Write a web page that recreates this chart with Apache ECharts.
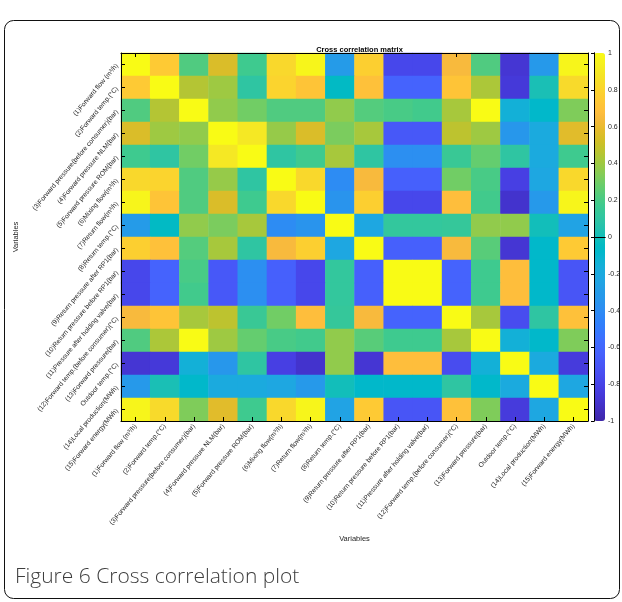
<!DOCTYPE html>
<html>
<head>
<meta charset="utf-8">
<script src="https://cdn.jsdelivr.net/npm/echarts@6/dist/echarts.min.js"></script>
<style>
  html, body { margin: 0; padding: 0; background: #ffffff; }
  #chart { width: 622px; height: 602px; }
</style>
</head>
<body>
<div id="chart"></div>
<script>
// Variable names, in matrix order (top-to-bottom rows, left-to-right columns)
const variables = [
  '(1)Forward flow (m³/h)',
  '(2)Forward temp.(°C)',
  '(3)Forward pressure(before consumer)(bar)',
  '(4)Forward pressure NLM(bar)',
  '(5)Forward pressure ROM(bar)',
  '(6)Mixing flow(m³/h)',
  '(7)Return flow(m³/h)',
  '(8)Return temp.(°C)',
  '(9)Return pressure after RP1(bar)',
  '(10)Return pressure before RP1(bar)',
  '(11)Pressure after holding valve(bar)',
  '(12)Forward temp.(before consumer)(°C)',
  '(13)Forward pressure(bar)',
  'Outdoor temp.(°C)',
  '(14)Local production(MWh)',
  '(15)Forward energy(MWh)'
];

// Pairwise correlation coefficients, one row per variable
const corrRows = [
  [ 1.00,  0.75,  0.22,  0.55,  0.17,  0.82,  0.97, -0.30,  0.78, -0.78, -0.78,  0.65,  0.22, -0.88, -0.32,  0.97],
  [ 0.75,  1.00,  0.45,  0.40,  0.10,  0.80,  0.72, -0.05,  0.70, -0.62, -0.62,  0.72,  0.43, -0.86,  0.02,  0.83],
  [ 0.22,  0.45,  1.00,  0.37,  0.30,  0.22,  0.22,  0.37,  0.23,  0.20,  0.18,  0.42,  1.00, -0.15, -0.08,  0.33],
  [ 0.55,  0.40,  0.37,  1.00,  0.90,  0.38,  0.55,  0.32,  0.42, -0.68, -0.68,  0.47,  0.40, -0.33, -0.20,  0.57],
  [ 0.17,  0.10,  0.30,  0.90,  1.00,  0.10,  0.17,  0.42,  0.10, -0.38, -0.38,  0.15,  0.27,  0.10, -0.20,  0.17],
  [ 0.82,  0.80,  0.22,  0.38,  0.10,  1.00,  0.82, -0.40,  0.65, -0.64, -0.64,  0.30,  0.20, -0.82, -0.22,  0.82],
  [ 0.97,  0.72,  0.22,  0.55,  0.17,  0.82,  1.00, -0.35,  0.78, -0.78, -0.78,  0.68,  0.18, -0.90, -0.32,  0.97],
  [-0.30, -0.05,  0.37,  0.32,  0.42, -0.40, -0.35,  1.00, -0.22,  0.12,  0.12,  0.13,  0.37,  0.37,  0.00, -0.25],
  [ 0.78,  0.70,  0.23,  0.42,  0.10,  0.65,  0.78, -0.22,  1.00, -0.64, -0.64,  0.65,  0.24, -0.88, -0.08,  0.75],
  [-0.78, -0.62,  0.20, -0.68, -0.38, -0.64, -0.78,  0.12, -0.64,  1.00,  1.00, -0.62,  0.17,  0.68, -0.08, -0.70],
  [-0.78, -0.62,  0.18, -0.68, -0.38, -0.64, -0.78,  0.12, -0.64,  1.00,  1.00, -0.62,  0.17,  0.68, -0.08, -0.70],
  [ 0.65,  0.72,  0.42,  0.47,  0.15,  0.30,  0.68,  0.13,  0.65, -0.62, -0.62,  1.00,  0.42, -0.75,  0.10,  0.70],
  [ 0.22,  0.43,  1.00,  0.40,  0.27,  0.20,  0.18,  0.37,  0.24,  0.17,  0.17,  0.42,  1.00, -0.15, -0.08,  0.33],
  [-0.88, -0.86, -0.15, -0.33,  0.10, -0.82, -0.90,  0.37, -0.88,  0.68,  0.68, -0.75, -0.15,  1.00, -0.20, -0.85],
  [-0.32,  0.02, -0.08, -0.20, -0.20, -0.22, -0.32,  0.00, -0.08, -0.08, -0.08,  0.10, -0.08, -0.20,  1.00, -0.22],
  [ 0.97,  0.83,  0.33,  0.57,  0.17,  0.82,  0.97, -0.25,  0.75, -0.70, -0.70,  0.70,  0.33, -0.85, -0.22,  1.00]
];

// Colour bar range and tick step
const colorMin = -1;
const colorMax = 1;
const colorStep = 0.2;

// Parula colour map (64 entries, RGB in 0..1)
const parulaRGB = [
  [0.2422,0.1504,0.6603],[0.2504,0.1650,0.7076],[0.2578,0.1818,0.7511],[0.2647,0.1978,0.7952],
  [0.2706,0.2147,0.8364],[0.2751,0.2342,0.8710],[0.2783,0.2559,0.8991],[0.2803,0.2782,0.9221],
  [0.2813,0.3006,0.9414],[0.2810,0.3228,0.9579],[0.2795,0.3447,0.9717],[0.2760,0.3667,0.9829],
  [0.2699,0.3892,0.9906],[0.2602,0.4123,0.9952],[0.2440,0.4358,0.9988],[0.2206,0.4603,0.9973],
  [0.1963,0.4847,0.9892],[0.1834,0.5074,0.9798],[0.1786,0.5289,0.9682],[0.1764,0.5499,0.9520],
  [0.1687,0.5703,0.9359],[0.1540,0.5902,0.9218],[0.1460,0.6091,0.9079],[0.1380,0.6276,0.8973],
  [0.1248,0.6459,0.8883],[0.1113,0.6635,0.8763],[0.0952,0.6798,0.8598],[0.0689,0.6948,0.8394],
  [0.0297,0.7082,0.8163],[0.0036,0.7203,0.7917],[0.0067,0.7312,0.7660],[0.0433,0.7411,0.7394],
  [0.0964,0.7500,0.7120],[0.1408,0.7584,0.6842],[0.1717,0.7670,0.6554],[0.1938,0.7758,0.6251],
  [0.2161,0.7843,0.5923],[0.2470,0.7918,0.5567],[0.2906,0.7973,0.5188],[0.3406,0.8008,0.4789],
  [0.3909,0.8029,0.4354],[0.4456,0.8024,0.3909],[0.5044,0.7993,0.3480],[0.5616,0.7942,0.3045],
  [0.6174,0.7876,0.2612],[0.6720,0.7793,0.2227],[0.7242,0.7698,0.1910],[0.7738,0.7598,0.1646],
  [0.8203,0.7498,0.1535],[0.8634,0.7406,0.1596],[0.9035,0.7330,0.1774],[0.9393,0.7288,0.2100],
  [0.9728,0.7298,0.2394],[0.9956,0.7434,0.2371],[0.9970,0.7659,0.2199],[0.9952,0.7893,0.2028],
  [0.9892,0.8136,0.1885],[0.9786,0.8386,0.1766],[0.9676,0.8639,0.1643],[0.9610,0.8890,0.1537],
  [0.9597,0.9135,0.1423],[0.9628,0.9373,0.1265],[0.9691,0.9606,0.1064],[0.9769,0.9839,0.0805]
];
const parula = parulaRGB.map(c => 'rgb(' + c.map(v => Math.round(v * 255)).join(',') + ')');

// Heatmap cells: [column, row, value]
const cells = [];
corrRows.forEach((row, r) => row.forEach((v, c) => cells.push([c, r, v])));

const FONT = 'Liberation Sans, Arial, Helvetica, sans-serif';
const TXT = '#262626';
const axisLine = { show: true, lineStyle: { color: '#000', width: 1 } };
const innerTick = { show: true, inside: true, length: 4, alignWithLabel: true, lineStyle: { color: '#000', width: 1 } };
const tickLabel = { rotate: 50, fontSize: 6.7, color: TXT, margin: 4, interval: 0, fontFamily: FONT };

// Plot area of the matrix
const plot = { left: 121, top: 53, width: 467, height: 368 };
// Colour bar area
const bar = { left: 594, top: 53, width: 11, height: 368 };

const chart = echarts.init(document.getElementById('chart'), null, { renderer: 'canvas' });

chart.setOption({
  backgroundColor: '#ffffff',
  animation: false,
  textStyle: { fontFamily: FONT },
  title: [
    {
      text: 'Cross correlation matrix',
      left: plot.left + plot.width / 2,
      textAlign: 'center',
      top: 41,
      textStyle: { fontSize: 7.5, fontWeight: 'bold', color: '#000', fontFamily: FONT }
    },
    {
      text: 'Figure 6 Cross correlation plot',
      left: 10,
      top: 562,
      textStyle: { fontSize: 21, fontWeight: 300, color: '#3d3d3d', fontFamily: 'Open Sans, Noto Sans, sans-serif' }
    }
  ],
  graphic: [
    {
      type: 'rect',
      silent: true,
      shape: { x: 4.5, y: 20.5, width: 615, height: 578, r: 9 },
      style: { fill: 'none', stroke: '#111', lineWidth: 1 }
    }
  ],
  grid: [
    { left: plot.left, top: plot.top, width: plot.width, height: plot.height, containLabel: false, outerBoundsMode: 'none' },
    { left: bar.left, top: bar.top, width: bar.width, height: bar.height, containLabel: false, outerBoundsMode: 'none' }
  ],
  xAxis: [
    {
      type: 'category', gridIndex: 0, position: 'bottom', data: variables,
      axisLine: axisLine, axisTick: innerTick, splitLine: { show: false }, splitArea: { show: false },
      axisLabel: tickLabel,
      name: 'Variables', nameLocation: 'middle', nameGap: 114, nameMoveOverlap: false,
      nameTextStyle: { fontSize: 7.5, color: TXT, fontFamily: FONT }, z: 10
    },
    {
      type: 'category', gridIndex: 0, position: 'top', data: variables,
      axisLine: axisLine, axisTick: innerTick, axisLabel: { show: false },
      splitLine: { show: false }, z: 10
    },
    {
      type: 'value', gridIndex: 1, position: 'bottom', min: 0, max: 1,
      axisLine: axisLine, axisTick: { show: false }, axisLabel: { show: false },
      splitLine: { show: false }, z: 10
    },
    {
      type: 'value', gridIndex: 1, position: 'top', min: 0, max: 1,
      axisLine: axisLine, axisTick: { show: false }, axisLabel: { show: false },
      splitLine: { show: false }, z: 10
    }
  ],
  yAxis: [
    {
      type: 'category', gridIndex: 0, position: 'left', inverse: true, data: variables,
      axisLine: axisLine, axisTick: innerTick, splitLine: { show: false }, splitArea: { show: false },
      axisLabel: tickLabel,
      name: 'Variables', nameLocation: 'middle', nameGap: 101, nameRotate: 90, nameMoveOverlap: false,
      nameTextStyle: { fontSize: 7.5, color: TXT, fontFamily: FONT }, z: 10
    },
    {
      type: 'category', gridIndex: 0, position: 'right', inverse: true, data: variables,
      axisLine: axisLine, axisTick: innerTick, axisLabel: { show: false },
      splitLine: { show: false }, z: 10
    },
    {
      type: 'value', gridIndex: 1, position: 'right', min: colorMin, max: colorMax, interval: colorStep,
      axisLine: axisLine,
      axisTick: { show: true, inside: true, length: 3, lineStyle: { color: '#000' } },
      axisLabel: { fontSize: 7, color: TXT, margin: 3, fontFamily: FONT },
      splitLine: { show: false }, z: 10
    },
    {
      type: 'value', gridIndex: 1, position: 'left', min: colorMin, max: colorMax,
      axisLine: axisLine, axisTick: { show: false }, axisLabel: { show: false },
      splitLine: { show: false }, z: 10
    }
  ],
  visualMap: {
    type: 'continuous',
    min: colorMin, max: colorMax,
    seriesIndex: 0,
    orient: 'vertical',
    left: bar.left, top: bar.top,
    itemWidth: bar.width, itemHeight: bar.height,
    padding: 0,
    calculable: false,
    hoverLink: false,
    inRange: { color: parula }
  },
  series: [
    {
      type: 'heatmap',
      xAxisIndex: 0, yAxisIndex: 0,
      data: cells,
      label: { show: false },
      emphasis: { disabled: true },
      itemStyle: { borderWidth: 0 }
    }
  ]
});
</script>
</body>
</html>
